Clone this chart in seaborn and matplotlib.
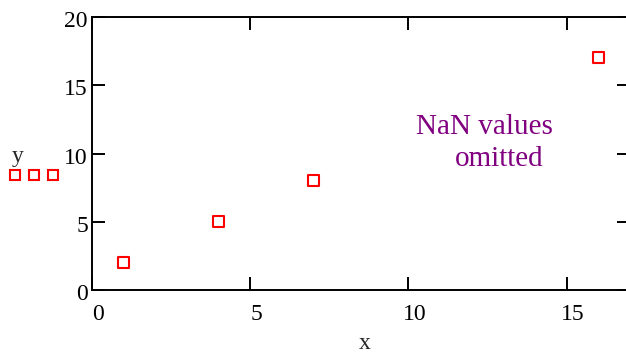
import matplotlib
matplotlib.use("Agg")
import matplotlib.pyplot as plt
import matplotlib.transforms as mtransforms
from matplotlib.lines import Line2D
import numpy as np
import pandas as pd
import seaborn as sns

# data
x_vals = [1, 4, 7, 16]
y_vals = [2, 5, 8, 17]
x_ticks = [0, 5, 10, 15]
y_ticks = [0, 5, 10, 15, 20]
note_lines = ["NaN values", "omitted"]

sns.set_style("ticks")
plt.rcParams["font.family"] = ["Liberation Serif", "DejaVu Serif"]
plt.rcParams["mathtext.fontset"] = "stix"

W, H = 626, 355
fig = plt.figure(figsize=(W / 100, H / 100), dpi=100)

# axes box in pixels: left 92, right 630 (just off the picture), top 17, bottom 290
left, right, top, bottom = 92, 630, 17, 290
ax = fig.add_axes([left / W, 1 - bottom / H, (right - left) / W, (bottom - top) / H])

df = pd.DataFrame({"x": x_vals, "y": y_vals})
sns.scatterplot(
    data=df, x="x", y="y", ax=ax,
    marker="s", s=62, facecolors="none", edgecolor="red", linewidth=1.5,
    legend=False, zorder=3,
)

ax.set_xlim(0, 17)
ax.set_ylim(0, 20)
ax.set_xticks(x_ticks)
ax.set_yticks(y_ticks)

for side in ["left", "top", "bottom"]:
    ax.spines[side].set_linewidth(1.4)
    ax.spines[side].set_color("black")
ax.spines["right"].set_visible(False)

ax.tick_params(axis="both", direction="in", length=9.5, width=1.4, color="black",
               labelsize=17, labelcolor="black", top=True, right=True)
ax.tick_params(axis="x", pad=10)
ax.tick_params(axis="y", pad=3)

# Mathcad nudges the tick labels a little off the ticks
dx = mtransforms.ScaledTranslation(6 / 100, 0, fig.dpi_scale_trans)
for lab in ax.get_xticklabels():
    lab.set_transform(lab.get_transform() + dx)
dy = mtransforms.ScaledTranslation(0, -2 / 100, fig.dpi_scale_trans)
for lab in ax.get_yticklabels():
    lab.set_transform(lab.get_transform() + dy)

ax.set_xlabel("x", fontsize=17)
ax.set_ylabel("y", fontsize=17, rotation=0)
ax.xaxis.set_label_coords((365 - left) / (right - left), (bottom - 349) / (bottom - top))
ax.xaxis.label.set_va("baseline")
ax.xaxis.label.set_ha("center")
ax.yaxis.set_label_coords((18 - left) / (right - left), (bottom - 162) / (bottom - top))
ax.yaxis.label.set_va("baseline")
ax.yaxis.label.set_ha("center")

# trace legend under the y label: three sample markers
handle = Line2D([], [], marker="s", ls="", mfc="none", mec="red", ms=7.9, mew=1.5)
ax.legend([handle], [""], numpoints=3, handlelength=3.33, handletextpad=0,
          borderpad=0, borderaxespad=0, frameon=False, prop={"size": 10},
          loc="center", bbox_to_anchor=(34 / W, 1 - 176 / H),
          bbox_transform=fig.transFigure)

ax.text((416 - left) / (right - left), (bottom - 134) / (bottom - top), note_lines[0],
        transform=ax.transAxes, color="#800080", fontsize=21, ha="left", va="baseline")
ax.text((455 - left) / (right - left), (bottom - 166) / (bottom - top), note_lines[1],
        transform=ax.transAxes, color="#800080", fontsize=21, ha="left", va="baseline")

fig.savefig("out.png", dpi=100)
